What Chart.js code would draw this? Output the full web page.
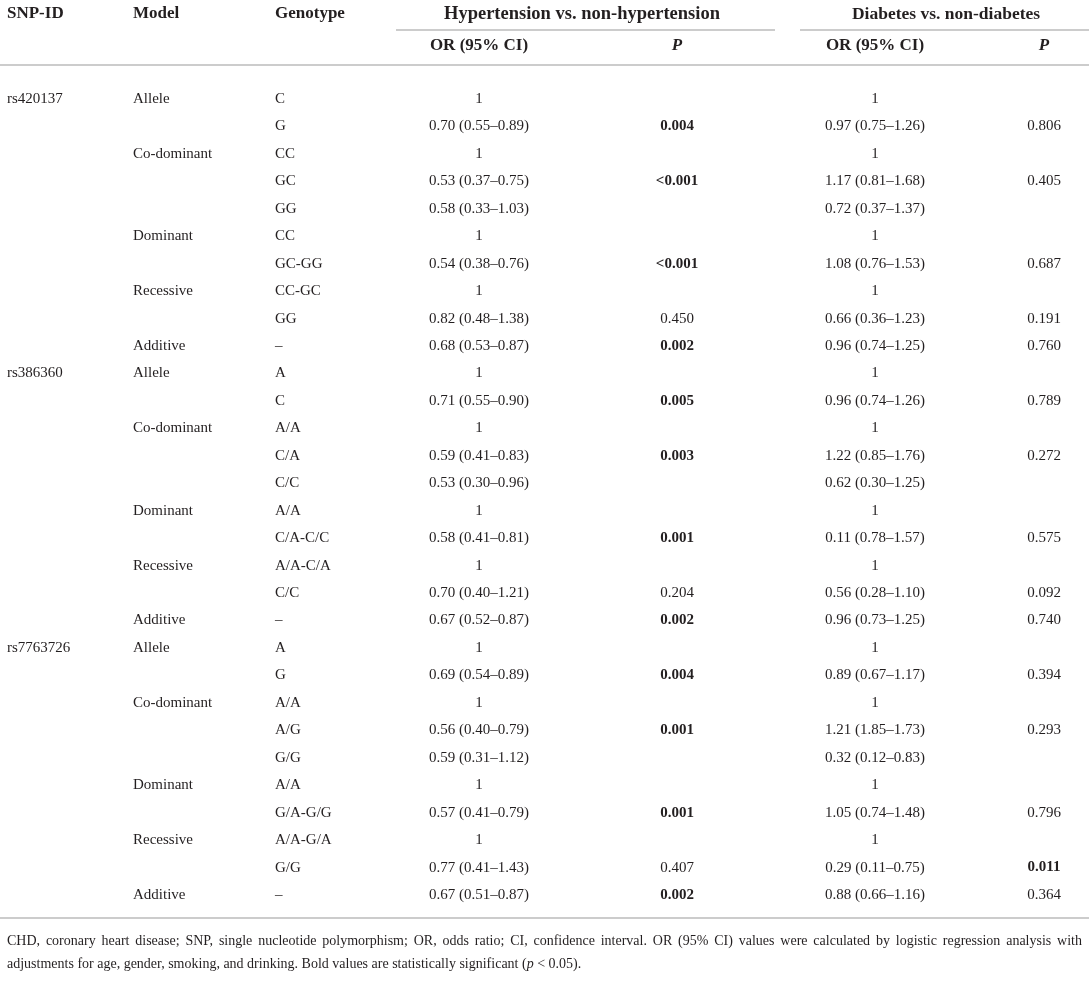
<!DOCTYPE html>
<html>
<head>
<meta charset="utf-8">
<script src="https://cdn.jsdelivr.net/npm/chart.js@4.4.1/dist/chart.umd.min.js"></script>
<style>
html, body { margin: 0; padding: 0; background: #fff; }
#wrap { width: 1089px; height: 1004px; position: relative; }
</style>
</head>
<body>
<div id="wrap"><canvas id="tableChart"></canvas></div>
<script>
// table values
var snpIds = ['rs420137', 'rs386360', 'rs7763726'];
var models = ['Allele', '', 'Co-dominant', '', '', 'Dominant', '', 'Recessive', '', 'Additive'];
var genotypes = [
	['C', 'G', 'CC', 'GC', 'GG', 'CC', 'GC-GG', 'CC-GC', 'GG', '–'],
	['A', 'C', 'A/A', 'C/A', 'C/C', 'A/A', 'C/A-C/C', 'A/A-C/A', 'C/C', '–'],
	['A', 'G', 'A/A', 'A/G', 'G/G', 'A/A', 'G/A-G/G', 'A/A-G/A', 'G/G', '–']
];
var htnOR = [
	['1', '0.70 (0.55–0.89)', '1', '0.53 (0.37–0.75)', '0.58 (0.33–1.03)', '1', '0.54 (0.38–0.76)', '1', '0.82 (0.48–1.38)', '0.68 (0.53–0.87)'],
	['1', '0.71 (0.55–0.90)', '1', '0.59 (0.41–0.83)', '0.53 (0.30–0.96)', '1', '0.58 (0.41–0.81)', '1', '0.70 (0.40–1.21)', '0.67 (0.52–0.87)'],
	['1', '0.69 (0.54–0.89)', '1', '0.56 (0.40–0.79)', '0.59 (0.31–1.12)', '1', '0.57 (0.41–0.79)', '1', '0.77 (0.41–1.43)', '0.67 (0.51–0.87)']
];
var htnP = [
	['', '0.004', '', '<0.001', '', '', '<0.001', '', '0.450', '0.002'],
	['', '0.005', '', '0.003', '', '', '0.001', '', '0.204', '0.002'],
	['', '0.004', '', '0.001', '', '', '0.001', '', '0.407', '0.002']
];
var dmOR = [
	['1', '0.97 (0.75–1.26)', '1', '1.17 (0.81–1.68)', '0.72 (0.37–1.37)', '1', '1.08 (0.76–1.53)', '1', '0.66 (0.36–1.23)', '0.96 (0.74–1.25)'],
	['1', '0.96 (0.74–1.26)', '1', '1.22 (0.85–1.76)', '0.62 (0.30–1.25)', '1', '0.11 (0.78–1.57)', '1', '0.56 (0.28–1.10)', '0.96 (0.73–1.25)'],
	['1', '0.89 (0.67–1.17)', '1', '1.21 (1.85–1.73)', '0.32 (0.12–0.83)', '1', '1.05 (0.74–1.48)', '1', '0.29 (0.11–0.75)', '0.88 (0.66–1.16)']
];
var dmP = [
	['', '0.806', '', '0.405', '', '', '0.687', '', '0.191', '0.760'],
	['', '0.789', '', '0.272', '', '', '0.575', '', '0.092', '0.740'],
	['', '0.394', '', '0.293', '', '', '0.796', '', '0.011', '0.364']
];
var headTop = ['SNP-ID', 'Model', 'Genotype', 'Hypertension vs. non-hypertension', 'Diabetes vs. non-diabetes'];
var headSub = ['OR (95% CI)', 'P', 'OR (95% CI)', 'P'];
var footLine1 = 'CHD, coronary heart disease; SNP, single nucleotide polymorphism; OR, odds ratio; CI, confidence interval. OR (95% CI) values were calculated by logistic regression analysis with';
var footLine2 = ['adjustments for age, gender, smoking, and drinking. Bold values are statistically significant (', 'p', ' < 0.05).'];

// layout (x in px on the x scale, y in row units on the y scale)
var SERIF = '"Liberation Serif", "Times New Roman", serif';
var INK = '#231f20';
var RULE = '#cccccc';
var col = { snp: 7, model: 133, geno: 275, htnOR: 479, htnP: 677, dmOR: 875, dmP: 1044, htnHead: 582, dmHead: 946 };
var rowTop = -3.097, rowSub = -1.931, ruleA = -2.514, ruleB = -1.239, ruleEnd = 29.836, foot1 = 30.674, foot2 = 31.511;

function isSig(p) {
	if (!p) return false;
	if (p.charAt(0) == '<') return true;
	return parseFloat(p) < 0.05;
}

function column(xPos, align, getText, getBold) {
	var data = [], texts = [], bold = [];
	for (var s = 0; s < 3; s++) {
		for (var k = 0; k < 10; k++) {
			var t = getText(s, k);
			if (!t) continue;
			data.push({ x: xPos, y: s * 10 + k });
			texts.push(t);
			bold.push(getBold ? getBold(s, k) : false);
		}
	}
	return { data: data, texts: texts, bold: bold, align: align, size: 15, pointRadius: 0 };
}

var datasets = [
	column(col.snp, 'left', function (s, k) { return k == 0 ? snpIds[s] : ''; }),
	column(col.model, 'left', function (s, k) { return models[k]; }),
	column(col.geno, 'left', function (s, k) { return genotypes[s][k]; }),
	column(col.htnOR, 'center', function (s, k) { return htnOR[s][k]; }),
	column(col.htnP, 'center', function (s, k) { return htnP[s][k]; }, function (s, k) { return isSig(htnP[s][k]); }),
	column(col.dmOR, 'center', function (s, k) { return dmOR[s][k]; }),
	column(col.dmP, 'center', function (s, k) { return dmP[s][k]; }, function (s, k) { return isSig(dmP[s][k]); }),
	{
		data: [{ x: col.snp, y: rowTop }, { x: col.model, y: rowTop }, { x: col.geno, y: rowTop }, { x: col.htnHead, y: rowTop }, { x: col.dmHead, y: rowTop }],
		texts: headTop, bold: [true, true, true, true, true], align: ['left', 'left', 'left', 'center', 'center'],
		size: [17, 17, 17, 18.5, 17.5], pointRadius: 0
	},
	{
		data: [{ x: col.htnOR, y: rowSub }, { x: col.htnP, y: rowSub }, { x: col.dmOR, y: rowSub }, { x: col.dmP, y: rowSub }],
		texts: headSub, bold: [true, true, true, true], italic: [false, true, false, true], align: 'center', size: 17, pointRadius: 0
	}
];

var tablePlugin = {
	id: 'tableText',
	beforeDraw: function (chart) {
		var ctx = chart.ctx;
		ctx.save();
		ctx.fillStyle = '#fff';
		ctx.fillRect(0, 0, chart.width, chart.height);
		ctx.restore();
	},
	afterDatasetsDraw: function (chart) {
		var ctx = chart.ctx;
		var xs = chart.scales.x, ys = chart.scales.y;
		ctx.save();
		// rules
		ctx.strokeStyle = RULE;
		ctx.lineWidth = 2;
		var rules = [[396, 775, ruleA], [800, 1089, ruleA], [0, 1089, ruleB], [0, 1089, ruleEnd]];
		rules.forEach(function (r) {
			var y = Math.round(ys.getPixelForValue(r[2]));
			ctx.beginPath();
			ctx.moveTo(xs.getPixelForValue(r[0]), y);
			ctx.lineTo(xs.getPixelForValue(r[1]), y);
			ctx.stroke();
		});
		// cells
		ctx.fillStyle = INK;
		ctx.textBaseline = 'middle';
		chart.data.datasets.forEach(function (ds, di) {
			var meta = chart.getDatasetMeta(di);
			meta.data.forEach(function (pt, i) {
				var it = ds.italic && ds.italic[i] ? 'italic ' : '';
				var b = ds.bold[i] ? 'bold ' : '';
				var size = Array.isArray(ds.size) ? ds.size[i] : ds.size;
				ctx.font = it + b + size + 'px ' + SERIF;
				ctx.textAlign = Array.isArray(ds.align) ? ds.align[i] : ds.align;
				ctx.fillText(ds.texts[i], pt.x, pt.y);
			});
		});
		// footnote, first line justified
		ctx.font = '14px ' + SERIF;
		ctx.textAlign = 'left';
		var left = xs.getPixelForValue(7), right = xs.getPixelForValue(1082);
		var words = footLine1.split(' ');
		var sum = 0;
		words.forEach(function (w) { sum += ctx.measureText(w).width; });
		var gap = (right - left - sum) / (words.length - 1);
		var x = left, y1 = ys.getPixelForValue(foot1);
		words.forEach(function (w) {
			ctx.fillText(w, x, y1);
			x += ctx.measureText(w).width + gap;
		});
		x = left;
		var y2 = ys.getPixelForValue(foot2);
		footLine2.forEach(function (part, i) {
			ctx.font = (i == 1 ? 'italic ' : '') + '14px ' + SERIF;
			ctx.fillText(part, x, y2);
			x += ctx.measureText(part).width;
		});
		ctx.restore();
	}
};

var ctxT = document.getElementById('tableChart').getContext('2d');
var tableChart = new Chart(ctxT, {
	type: 'scatter',
	data: { datasets: datasets },
	options: {
		responsive: true,
		maintainAspectRatio: false,
		animation: false,
		events: [],
		layout: { padding: 0 },
		plugins: { legend: { display: false }, tooltip: { enabled: false } },
		scales: {
			x: { type: 'linear', min: 0, max: 1089, display: false },
			y: { type: 'linear', reverse: true, min: -3.607, max: 32.969, display: false }
		}
	},
	plugins: [tablePlugin]
});
</script>
</body>
</html>
